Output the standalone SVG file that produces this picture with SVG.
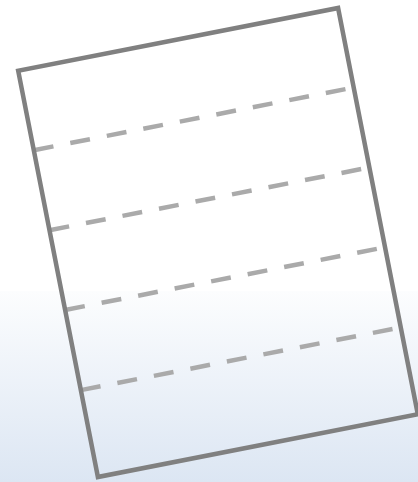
<svg xmlns="http://www.w3.org/2000/svg" width="418" height="482" viewBox="0 0 418 482">
<defs>
<linearGradient id="bg" x1="0" y1="0" x2="0" y2="1">
<stop offset="0" stop-color="#fcfdfe"/>
<stop offset="1" stop-color="#dce6f3"/>
</linearGradient>
<style>
.paper{fill:none;stroke:#808080;stroke-width:4.5;stroke-linejoin:miter}
.fold{stroke:#aaaaaa;stroke-width:4.5;stroke-dasharray:20 17.2;fill:none}
</style>
</defs>
<rect x="0" y="0" width="418" height="482" fill="#ffffff"/>
<rect x="0" y="291" width="418" height="191" fill="url(#bg)"/>
<g id="sheet" transform="translate(218,242.5) rotate(-11.1)">
<g id="folds">
<line class="fold" x1="-163" y1="-126" x2="163" y2="-126"/>
<line class="fold" x1="-163" y1="-44.5" x2="163" y2="-44.5"/>
<line class="fold" x1="-163" y1="36.8" x2="163" y2="36.8"/>
<line class="fold" x1="-163" y1="118.5" x2="163" y2="118.5"/>
</g>
<rect class="paper" x="-163" y="-207" width="326" height="414"/>
</g>
</svg>
